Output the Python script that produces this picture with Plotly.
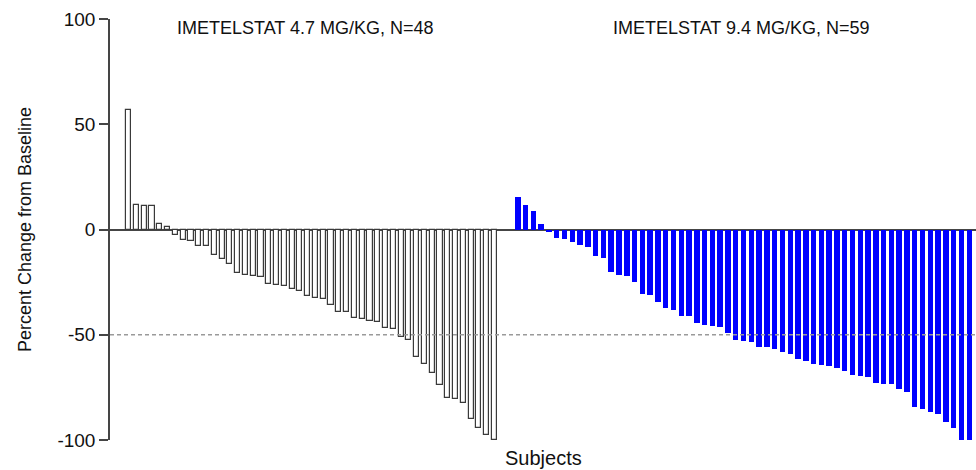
import plotly.graph_objects as go

# Best percent change from baseline per subject, sorted within each dose group
dose_47 = [56.7, 11.6, 11.3, 11.1, 2.4, 1.0, -2.5, -5.2, -5.4, -7.9, -7.9, -12.2,
           -14.1, -16.5, -20.8, -21.6, -21.9, -22.5, -25.9, -26.3, -26.8, -28.4,
           -29.2, -31.7, -32.4, -33.0, -35.7, -39.2, -39.4, -42.1, -42.4, -43.3,
           -44.1, -47.0, -47.3, -51.1, -52.4, -60.8, -63.8, -68.1, -74.1, -80.0,
           -80.6, -82.5, -89.8, -94.1, -97.5, -100.0]
dose_94 = [15.6, 11.7, 8.9, 2.5, -1.3, -4.1, -4.4, -5.7, -7.4, -8.1, -12.7, -13.5,
           -20.2, -21.6, -22.2, -24.8, -30.7, -31.0, -34.4, -37.3, -38.3, -41.0,
           -41.0, -44.6, -45.2, -45.9, -46.2, -49.3, -52.4, -53.2, -53.3, -55.6,
           -55.9, -57.0, -58.3, -59.0, -61.6, -62.4, -64.1, -64.3, -64.9, -65.6,
           -67.1, -68.9, -69.8, -70.0, -72.9, -73.5, -73.5, -75.9, -77.1, -84.3,
           -85.2, -86.8, -87.6, -91.4, -94.3, -100.0, -100.0]
group_titles = ["IMETELSTAT 4.7 MG/KG, N=48", "IMETELSTAT 9.4 MG/KG, N=59"]
y_ticks = [-100, -50, 0, 50, 100]

GAP = 3  # empty slots between the two dose groups
x_47 = list(range(len(dose_47)))
start_94 = len(dose_47) - 1 + GAP
x_94 = [start_94 + i for i in range(len(dose_94))]

FONT = "Liberation Sans, Arial, sans-serif"
AXIS = "#454545"

fig = go.Figure()
fig.add_trace(go.Bar(
    x=x_47, y=dose_47, width=0.66,
    marker=dict(color="white", line=dict(color="#3a3a3a", width=1.2)),
    showlegend=False, hoverinfo="y",
))
fig.add_trace(go.Bar(
    x=x_94, y=dose_94, width=0.7,
    marker=dict(color="#0000ff", line=dict(width=0)),
    showlegend=False, hoverinfo="y",
))

# 50% reduction reference
fig.add_shape(type="line", xref="paper", x0=0, x1=1, yref="y", y0=-50, y1=-50,
              line=dict(color="#9a9a9a", width=1.3, dash="4px,3px"))

# group headers centred over each dose group
mid_47 = (x_47[0] + x_47[-1]) / 2
mid_94 = (x_94[0] + x_94[-1]) / 2
for xm, txt in zip([mid_47 - 0.8, mid_94 - 0.2], group_titles):
    fig.add_annotation(x=xm, xref="x", y=1, yref="paper", yanchor="middle",
                       yshift=-9, text=txt, showarrow=False,
                       font=dict(family=FONT, size=18, color="#111"))

fig.add_annotation(x=0.5, xref="paper", y=0, yref="paper", yanchor="middle",
                   yshift=-18, text="Subjects", showarrow=False,
                   font=dict(family=FONT, size=20, color="#111"))

fig.update_layout(
    width=976, height=470,
    margin=dict(l=110, r=0, t=19, b=30),
    paper_bgcolor="white", plot_bgcolor="white",
    bargap=0,
    font=dict(family=FONT, size=18, color="#111"),
    xaxis=dict(range=[-2.4, start_94 + len(dose_94) - 1 + 0.87],
               visible=False, showgrid=False, zeroline=False),
    yaxis=dict(range=[-100, 100], tickvals=y_ticks,
               ticktext=[str(v) for v in y_ticks],
               showline=True, linecolor=AXIS, linewidth=1.5,
               ticks="outside", ticklen=9, tickwidth=1.5, tickcolor=AXIS,
               showgrid=False, zeroline=True, zerolinecolor=AXIS,
               zerolinewidth=1.5,
               tickfont=dict(family=FONT, size=19, color="#111"),
               title=dict(text="Percent Change from Baseline", standoff=21,
                          font=dict(family=FONT, size=18, color="#111"))),
)

fig.write_html("out.html")
